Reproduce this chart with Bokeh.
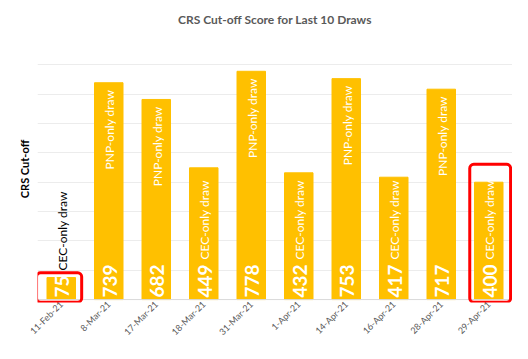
from math import pi
from bokeh.plotting import figure
from bokeh.models import ColumnDataSource, Range1d, FixedTicker, Span, BoxAnnotation
from bokeh.core.properties import value
from bokeh.embed import file_html
from bokeh.resources import INLINE

# ---- data ----
draw_dates = ["11-Feb-21", "8-Mar-21", "17-Mar-21", "18-Mar-21", "31-Mar-21",
              "1-Apr-21", "14-Apr-21", "16-Apr-21", "28-Apr-21", "29-Apr-21"]
cutoff_scores = [75, 739, 682, 449, 778, 432, 753, 417, 717, 400]
draw_types = ["CEC-only draw", "PNP-only draw", "PNP-only draw", "CEC-only draw",
              "PNP-only draw", "CEC-only draw", "PNP-only draw", "CEC-only draw",
              "PNP-only draw", "CEC-only draw"]
y_gridlines = [100, 200, 300, 400, 500, 600, 700, 800, 900]

BAR = "#FFC000"
FONT = "Lato"

xs = list(range(len(draw_dates)))
src = ColumnDataSource(dict(
    x=xs,
    score=cutoff_scores,
    label=[str(s) for s in cutoff_scores],
))

pnp = [i for i, t in enumerate(draw_types) if t.startswith("PNP")]
cec = [i for i, t in enumerate(draw_types) if t.startswith("CEC")]
pnp_src = ColumnDataSource(dict(
    x=[xs[i] for i in pnp],
    y=[cutoff_scores[i] for i in pnp],
    t=[draw_types[i] for i in pnp],
))
cec_src = ColumnDataSource(dict(
    x=[xs[i] for i in cec],
    y=[0 for i in cec],
    t=[draw_types[i] for i in cec],
    off=[-(2 + 11 * len(str(cutoff_scores[i])) + 5) for i in cec],
    col=["black" if cutoff_scores[i] < 200 else "white" for i in cec],
))

p = figure(width=512, height=343, output_backend="svg", toolbar_location=None,
           x_range=Range1d(-0.5, 9.5), y_range=Range1d(-10, 900),
           min_border_left=37, min_border_right=0, min_border_bottom=0,
           min_border_top=0)

p.title.text = "CRS Cut-off Score for Last 10 Draws"
p.title.align = "center"
p.title.text_font = FONT
p.title.text_font_size = "12px"
p.title.text_font_style = "bold"
p.title.text_color = "#595959"
p.title.standoff = 18

p.outline_line_color = None
p.xgrid.visible = False
p.ygrid.ticker = FixedTicker(ticks=y_gridlines)
p.ygrid.grid_line_color = "#ececec"

p.yaxis.ticker = FixedTicker(ticks=[])
p.yaxis.axis_label = "CRS Cut-off"
p.yaxis.axis_label_text_font = FONT
p.yaxis.axis_label_text_font_size = "11px"
p.yaxis.axis_label_text_font_style = "bold"
p.yaxis.axis_label_text_color = "black"
p.yaxis.axis_label_standoff = 7
p.yaxis.axis_line_color = None
p.yaxis.major_tick_line_color = None
p.yaxis.minor_tick_line_color = None
p.yaxis.major_tick_out = 0
p.yaxis.minor_tick_out = 0
p.yaxis.major_label_text_font_size = "0px"
p.yaxis.major_label_standoff = 0

p.xaxis.ticker = FixedTicker(ticks=xs)
p.xaxis.major_label_overrides = {i: d for i, d in zip(xs, draw_dates)}
p.xaxis.major_label_orientation = pi / 4
p.xaxis.major_label_text_font = FONT
p.xaxis.major_label_text_font_size = "9px"
p.xaxis.major_label_text_color = "#595959"
p.xaxis.major_label_standoff = 0
p.xaxis.major_tick_out = 0
p.xaxis.major_tick_in = 0
p.xaxis.minor_tick_out = 0
p.xaxis.axis_line_color = None
p.xaxis.major_tick_line_color = None
p.xaxis.minor_tick_line_color = None

p.vbar(x="x", top="score", bottom=0, width=0.6, color=BAR, source=src)
p.add_layout(Span(location=0, dimension="width", line_color="#d9d9d9", line_width=1))

p.text(x="x", y=0, text="label", angle=pi / 2, source=src,
       text_align="left", text_baseline="middle", y_offset=-2, x_offset=1,
       text_font=value(FONT), text_font_style="bold", text_font_size="19px",
       text_color="white")

p.text(x="x", y="y", text="t", angle=pi / 2, source=pnp_src,
       text_align="right", text_baseline="middle", y_offset=7, x_offset=1,
       text_font=value(FONT), text_font_size="12px", text_color="white")

p.text(x="x", y="y", text="t", angle=pi / 2, source=cec_src,
       text_align="left", text_baseline="middle", y_offset="off", x_offset=1,
       text_font=value(FONT), text_font_size="12px", text_color="col")

for left, right, bottom, top in [(-0.52, 0.43, -9, 91), (9 - 0.40, 9 + 0.46, -9, 461)]:
    p.add_layout(BoxAnnotation(left=left, right=right, bottom=bottom, top=top,
                               fill_color=None, line_color="#FF0000", line_alpha=1,
                               line_width=3, border_radius=4))

open("out.html", "w").write(file_html(p, INLINE))
